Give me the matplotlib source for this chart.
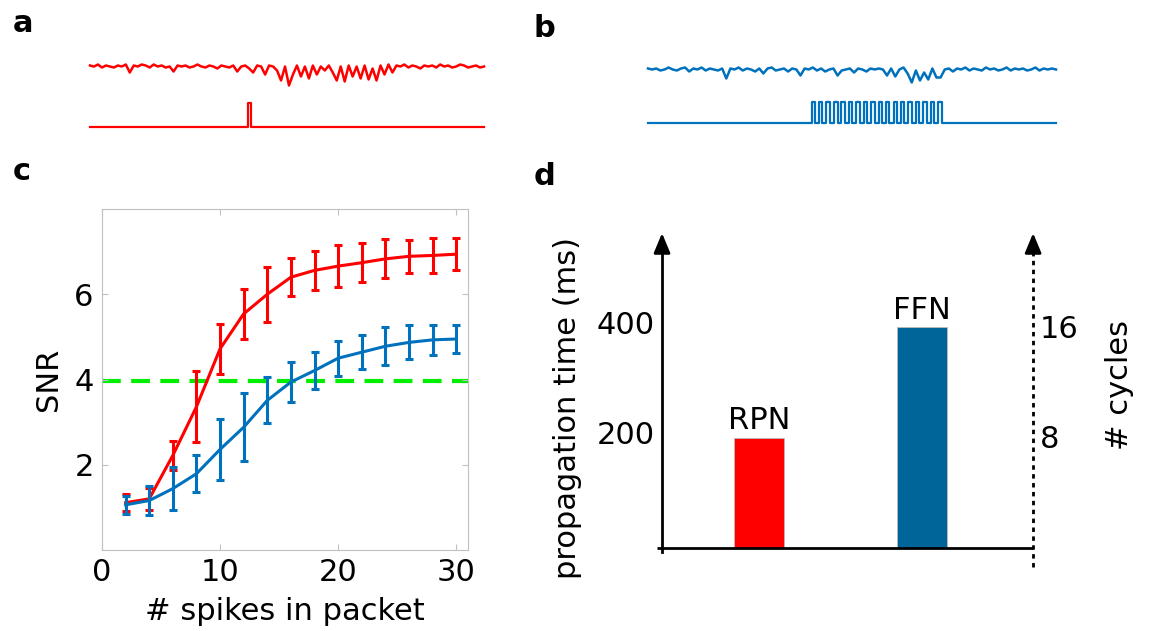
import numpy as np
import matplotlib
matplotlib.use('Agg')
import matplotlib.pyplot as plt

W, H = 1149, 631

# panel a/b: recorded traces (offsets in px, positive = up) and spike packets
trace_a = [1, 0, 2, -1, 1, 0, -1, 1, 0, 2,
           -6, 1, 0, 2, 1, -1, 2, 0, 1, -1,
           0, -5, 1, 0, 1, -1, 0, 2, 0, -1,
           1, 0, -2, 1, 0, -1, 1, -5, 0, 1,
           -2, -6, 1, 0, -8, 1, 0, -4, -14, 0,
           -19, -8, 1, -10, 0, -12, 1, -8, 0, -4,
           1, -6, -14, 0, -15, 1, -10, 0, -12, 1,
           -13, -2, -14, 1, -8, 2, -6, 1, 0, 2,
           -1, 1, 0, -2, 1, 0, 1, -1, 2, 0,
           1, -1, 0, 2, 1, -1, 0, 1, -1, 0]
trace_b = [1, 0, 1, -1, 0, 2, 0, -1, 1, 2,
           -2, 1, 0, 2, -1, 1, 0, -1, 1, -9,
           1, 0, 2, -1, 1, 0, -2, 1, -4, 1,
           2, -1, 0, 1, -2, 1, 0, -6, 1, 0,
           2, -1, 1, -2, 0, 1, -6, -1, 0, 1,
           -3, 1, 0, -2, 1, 0, 1, 0, -6, 1,
           -7, 0, 2, -4, -13, -1, -11, -3, -10, 1,
           -8, -8, 0, 1, -2, 1, 0, 2, -1, 1,
           0, -1, 2, 0, 1, -1, 0, 2, -1, 1,
           0, 1, -1, 0, 2, -1, 1, 0, 1, 0]
spikes_a = [0.400]
spikes_b = [0.401, 0.419, 0.437, 0.456, 0.474, 0.492, 0.510, 0.529, 0.547,
            0.565, 0.583, 0.602, 0.620, 0.638, 0.656, 0.675, 0.693, 0.711]

# panel c: SNR vs packet size
n_spikes = [2, 4, 6, 8, 10, 12, 14, 16, 18, 20, 22, 24, 26, 28, 30]
snr_rpn = [1.11, 1.2, 2.22, 3.36, 4.72, 5.54, 6.0, 6.4, 6.56, 6.66, 6.74, 6.83, 6.89, 6.91, 6.94]
err_rpn = [0.2, 0.25, 0.34, 0.83, 0.59, 0.58, 0.65, 0.44, 0.45, 0.5, 0.46, 0.46, 0.38, 0.4, 0.37]
snr_ffn = [1.06, 1.16, 1.44, 1.79, 2.36, 2.88, 3.51, 3.94, 4.21, 4.5, 4.64, 4.78, 4.87, 4.93, 4.95]
err_ffn = [0.21, 0.34, 0.51, 0.44, 0.71, 0.8, 0.54, 0.46, 0.44, 0.41, 0.4, 0.44, 0.4, 0.36, 0.32]
threshold = 3.97

# panel d: propagation time
networks = ['RPN', 'FFN']
prop_time = [200, 400]
yticks_ms = [200, 400]
cycle_labels = ['8', '16']

RED = '#ff0000'
BLUE = '#0072bd'
BAR_BLUE = '#006699'
GREEN = '#00ee00'
FS = 22

plt.rcParams['font.family'] = 'DejaVu Sans'


def px(l, t, w, h):
    return [l / W, 1 - (t + h) / H, w / W, h / H]


def pulses(times, width):
    xs, ys = [0.0], [0.0]
    for t in times:
        xs += [t, t, t + width, t + width]
        ys += [0, 1, 1, 0]
    xs.append(1.0)
    ys.append(0)
    return np.array(xs), np.array(ys)


fig = plt.figure(figsize=(W / 100, H / 100), dpi=100)


def trace_panel(rect, trace, spikes, width, color, trace_y, base_y, top_y):
    ax = fig.add_axes(px(*rect))
    ax.set_xlim(0, 1)
    ax.set_ylim(rect[1] + rect[3], rect[1])
    tx = np.linspace(0, 1, len(trace))
    ax.plot(tx, trace_y - np.array(trace), color=color, lw=1.8, clip_on=False)
    sx, sy = pulses(spikes, width)
    ax.plot(sx, base_y - sy * (base_y - top_y), color=color, lw=1.6, clip_on=False)
    ax.axis('off')
    return ax


trace_panel((90, 50, 394, 85), trace_a, spikes_a, 0.008, RED, 66.5, 127, 103)
trace_panel((648, 50, 408, 85), trace_b, spikes_b, 0.0086, BLUE, 69.5, 123, 102)

# panel c
axc = fig.add_axes(px(102, 209, 366, 341))
axc.errorbar(n_spikes, snr_ffn, yerr=err_ffn, color=BLUE, lw=2.2,
             elinewidth=2.2, capsize=3, capthick=2.2, zorder=3)
axc.errorbar(n_spikes, snr_rpn, yerr=err_rpn, color=RED, lw=2.2,
             elinewidth=2.2, capsize=3, capthick=2.2, zorder=2)
axc.axhline(threshold, color=GREEN, lw=3, dashes=(4.5, 2.5), zorder=1)
axc.set_xlim(0, 31)
axc.set_ylim(0, 8)
axc.set_xticks([0, 10, 20, 30])
axc.set_yticks([2, 4, 6])
for s in axc.spines.values():
    s.set_color('#c0c0c0')
axc.tick_params(direction='in', length=4, color='#c0c0c0', labelsize=FS,
                top=True, right=True, pad=6)
axc.set_xlabel('# spikes in packet', fontsize=FS, labelpad=7)
axc.set_ylabel('SNR', fontsize=FS, labelpad=8)

# panel d
axd = fig.add_axes(px(640, 225, 460, 345))
axd.set_xlim(0.27, 3.09)
axd.set_ylim(-39.9, 585.7)
axd.axis('off')
xpos = [1, 2]
axd.bar(xpos, prop_time, width=0.307, color=[RED, BAR_BLUE],
        edgecolor='#bbbbbb', linewidth=0.6, zorder=2)
for x, v, name in zip(xpos, prop_time, networks):
    axd.text(x, v + 5, name, ha='center', va='bottom', fontsize=FS)
x_left, x_right = 0.405, 2.68
axd.plot([0.374, x_right], [0, 0], color='k', lw=2, solid_capstyle='butt', zorder=3)
axd.plot([x_left, x_left], [-7, 560], color='k', lw=2, zorder=3)
axd.plot([x_right, x_right], [-34, 560], color='k', lw=2, dashes=(1.6, 1.6), zorder=3)
for xa in (x_left, x_right):
    axd.annotate('', xy=(xa, 571), xytext=(xa, 540),
                 arrowprops=dict(arrowstyle='-|>,head_length=0.6,head_width=0.25',
                                 color='k', lw=2, mutation_scale=20,
                                 shrinkA=0, shrinkB=0))
for v in yticks_ms:
    axd.text(x_left - 0.045, v + 4, str(v), ha='right', va='center', fontsize=FS)
for v, lab in zip(yticks_ms, cycle_labels):
    axd.text(x_right + 0.040, v - 4, lab, ha='left', va='center', fontsize=FS)

fig.text(567 / W, 1 - 408 / H, 'propagation time (ms)', rotation=90,
         ha='center', va='center', fontsize=FS)
fig.text(1120 / W, 1 - 385 / H, '# cycles', rotation=90,
         ha='center', va='center', fontsize=FS)

# panel letters
for lab, x, y in [('a', 13, 32), ('b', 534, 37), ('c', 13, 180), ('d', 534, 185)]:
    fig.text(x / W, 1 - y / H, lab, fontsize=22, fontweight='bold',
             ha='left', va='baseline')

fig.savefig('out.png', dpi=100)
